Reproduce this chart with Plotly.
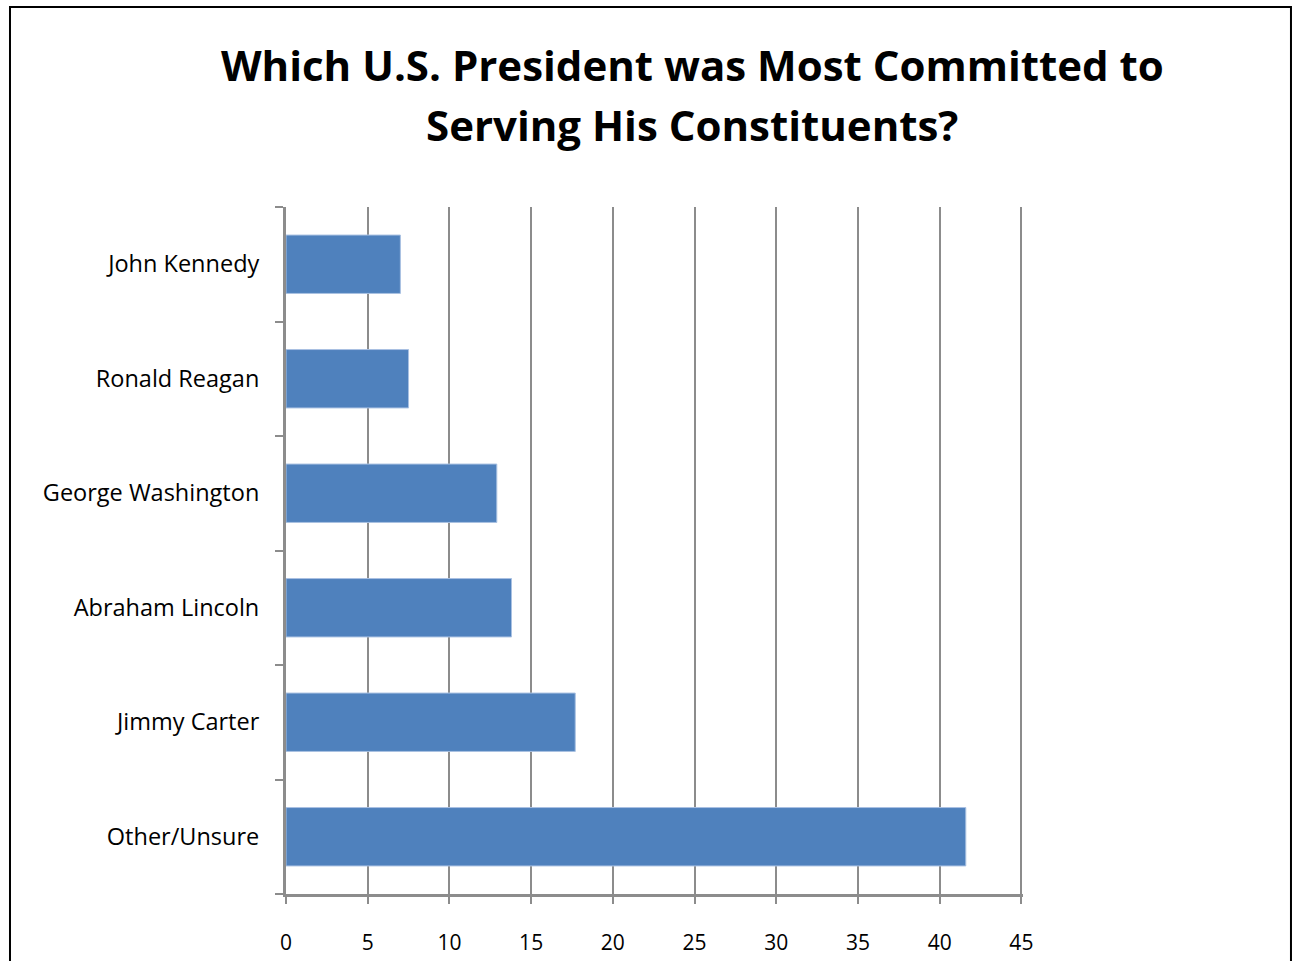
import plotly.graph_objects as go

# Survey responses (percent), listed top to bottom as displayed
presidents = ["John Kennedy", "Ronald Reagan", "George Washington",
              "Abraham Lincoln", "Jimmy Carter", "Other/Unsure"]
percent = [7.0, 7.5, 12.9, 13.8, 17.7, 41.6]
x_ticks = [0, 5, 10, 15, 20, 25, 30, 35, 40, 45]

title_lines = ["Which U.S. President was Most Committed to",
               "Serving His Constituents?"]

FONT = "'Open Sans', Calibri, sans-serif"
GRID = "#8c8c8c"

fig = go.Figure(go.Bar(
    x=percent,
    y=presidents,
    orientation="h",
    marker=dict(color="#4f81bd", line=dict(color="#a9c1e2", width=1)),
    hoverinfo="x+y",
))

# two title lines, placed individually for wider line spacing
title_ann = [
    dict(
        text=f"<b>{line}</b>",
        xref="paper", yref="paper",
        x=0.551, y=ypos,
        xanchor="center", yanchor="middle",
        showarrow=False,
        font=dict(size=42, family=FONT, color="black"),
    )
    for line, ypos in zip(title_lines, [1.2067, 1.1194])
]

fig.update_layout(
    width=1294,
    height=961,
    margin=dict(l=286, r=271, t=207, b=67, autoexpand=False),
    paper_bgcolor="white",
    plot_bgcolor="white",
    showlegend=False,
    bargap=0.49,
    font=dict(family=FONT, color="black"),
    annotations=title_ann,
    shapes=[dict(
        type="rect", xref="paper", yref="paper",
        x0=-0.3745, x1=1.3636, y0=-0.3, y1=1.2911,
        line=dict(color="black", width=2),
        fillcolor="rgba(0,0,0,0)",
        layer="below",
    )],
)

fig.update_xaxes(
    range=[0, 45.1],
    tickvals=x_ticks,
    ticktext=[str(v) for v in x_ticks],
    showgrid=True, gridcolor=GRID, gridwidth=2,
    showline=True, linecolor=GRID, linewidth=3,
    ticks="outside", ticklen=7, tickwidth=2, tickcolor=GRID,
    ticklabelstandoff=21,
    tickfont=dict(size=21, family=FONT, color="black"),
    zeroline=False,
    automargin=False,
    fixedrange=True,
)

fig.update_yaxes(
    categoryorder="array",
    categoryarray=presidents[::-1],
    showgrid=False,
    showline=True, linecolor=GRID, linewidth=3,
    ticks="outside", ticklen=8, tickwidth=2, tickcolor=GRID,
    tickson="boundaries",
    ticklabelstandoff=19,
    tickfont=dict(size=23.5, family=FONT, color="black"),
    automargin=False,
    fixedrange=True,
)

fig.write_html("out.html")
